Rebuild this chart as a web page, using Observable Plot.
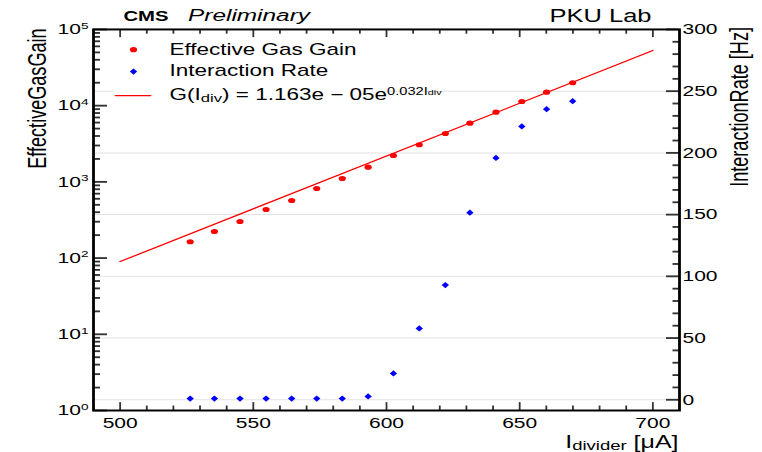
<!DOCTYPE html>
<html>
<head>
<meta charset="utf-8">
<script src="https://cdn.jsdelivr.net/npm/d3@7"></script>
<script src="https://cdn.jsdelivr.net/npm/@observablehq/plot@0.6"></script>
<style>
  html, body { margin: 0; padding: 0; background: #fff; overflow: hidden; }
  #wrap { position: relative; width: 762px; height: 637px; transform: scaleY(0.7096); transform-origin: 0 0; }
  #wrap svg { position: absolute; left: 0; top: 0; }
</style>
</head>
<body>
<div id="wrap"></div>
<script>
// ---------------- data ----------------
const currentUA = [526.3, 535.4, 545.0, 554.8, 564.4, 573.8, 583.4, 593.1, 602.6, 612.3, 622.1, 631.3, 641.1, 650.8, 660.1, 669.9];
const gasGain   = [164, 223, 302, 434, 570, 819, 1108, 1560, 2220, 3070, 4320, 5890, 8220, 11350, 15030, 19960];
const rateHz    = [1, 1, 1, 1, 1, 1, 1, 2.7, 21.3, 57.8, 92.9, 151.6, 195.9, 221.4, 235.4, 241.9];
const fitCurrentUA = [500, 700];
const fitGain      = [90, 53000];

// ---------------- ticks & labels ----------------
const xMajorTicks = [500, 550, 600, 650, 700];
const xMinorTicks = [510, 520, 530, 540, 560, 570, 580, 590, 610, 620, 630, 640, 660, 670, 680, 690];
const gainMajorTicks = [1, 10, 100, 1000, 10000, 100000];
const gainTickLabels = ["10^{0}", "10^{1}", "10^{2}", "10^{3}", "10^{4}", "10^{5}"];
const gainMinorTicks = [2,3,4,5,6,7,8,9, 20,30,40,50,60,70,80,90, 200,300,400,500,600,700,800,900,
  2000,3000,4000,5000,6000,7000,8000,9000, 20000,30000,40000,50000,60000,70000,80000,90000];
const rateMajorTicks = [0, 50, 100, 150, 200, 250, 300];
const rateMinorTicks = [10,20,30,40, 60,70,80,90, 110,120,130,140, 160,170,180,190, 210,220,230,240, 260,270,280,290];

const legendLabels = ["Effective Gas Gain", "Interaction Rate", "G(I_{div}) = 1.163e \u2212 05e^{0.032I_{div}}"];
const leftTitle  = "EffectiveGasGain";
const rightTitle = "InteractionRate [Hz]";
const xTitle     = "I_{divider} [\u03bcA]";
const cmsLabel = "CMS";
const prelimLabel = "Preliminary";
const labLabel = "PKU Lab";

// ---------------- tables ----------------
const gainTable = currentUA.map((I, i) => ({I, G: gasGain[i]}));
const rateTable = currentUA.map((I, i) => ({I, R: rateHz[i]}));
const fitTable  = fitCurrentUA.map((I, i) => ({I, G: fitGain[i]}));

// ---------------- layout ----------------
const W = 762, H = 637;
const M = {marginLeft: 93, marginRight: 83, marginTop: 41, marginBottom: 59};
const FW = W - M.marginLeft - M.marginRight;
const FH = H - M.marginTop - M.marginBottom;
const FONT = "'Liberation Sans', Arial, Helvetica, sans-serif";
const RED = "#ff0000", BLUE = "#0000ff", TICK = "#333333";

const diamond = {
  draw(ctx, size) {
    const r = Math.sqrt(size / Math.PI);
    const w = r * 1.05, h = r * 1.25;
    ctx.moveTo(0, -h); ctx.lineTo(w, 0); ctx.lineTo(0, h); ctx.lineTo(-w, 0); ctx.closePath();
  }
};
const hline = { draw(ctx, l) { ctx.moveTo(0, 0); ctx.lineTo(0, -l); } };

// inward tick marks drawn as short rules
const tickMarks = (vals, side, len, sw) => {
  const o = {stroke: TICK, strokeWidth: sw, strokeOpacity: 1};
  if (side === "bottom") return Plot.ruleX(vals, {...o, x: d => d, insetTop: FH - len});
  if (side === "top")    return Plot.ruleX(vals, {...o, x: d => d, insetBottom: FH - len});
  if (side === "left")   return Plot.ruleY(vals, {...o, y: d => d, insetRight: FW - len});
  return Plot.ruleY(vals, {...o, y: d => d, insetLeft: FW - len});
};

// bottom layer: rate (right axis), grid, blue markers
const plotB = Plot.plot({
  width: W, height: H, ...M,
  style: {fontFamily: FONT, background: "white", color: "black"},
  x: {domain: [490, 710], axis: null},
  y: {domain: [-8.7, 300]},
  marks: [
    Plot.gridY({ticks: rateMajorTicks, stroke: "#e2e2e2", strokeOpacity: 1, strokeWidth: 1.4}),
    Plot.axisY({ticks: rateMajorTicks, anchor: "right", tickSize: 0, tickPadding: 3, fontSize: 21, label: null}),
    tickMarks(rateMajorTicks, "right", 13, 2.6),
    tickMarks(rateMinorTicks, "right", 6.5, 2.6),
    Plot.dot(rateTable, {x: "I", y: "R", r: 3.5, symbol: diamond, fill: BLUE, stroke: "none"})
  ]
});

// top layer: gain (log, left axis), frame, fit, red markers, legend, titles
const plotA = Plot.plot({
  width: W, height: H, ...M,
  style: {fontFamily: FONT, background: "transparent", color: "black"},
  x: {domain: [490, 710]},
  y: {type: "log", domain: [1, 1e5]},
  marks: [
    // legend background
    Plot.frame({fill: "white", stroke: "none", insetLeft: 21, insetRight: 299, insetTop: 9, insetBottom: 433}),
    // x axis
    Plot.axisX({ticks: xMajorTicks, anchor: "bottom", tickSize: 0, tickPadding: 9.5, fontSize: 21, label: null, tickFormat: d => String(d)}),
    tickMarks(xMajorTicks, "bottom", 11.3, 1.8),
    tickMarks(xMinorTicks, "bottom", 6.5, 1.8),
    tickMarks(xMajorTicks, "top", 11.3, 1.8),
    tickMarks(xMinorTicks, "top", 6.5, 1.8),
    // left log axis
    Plot.axisY({ticks: gainMajorTicks, anchor: "left", tickSize: 0, tickPadding: 5, fontSize: 21, label: null,
      tickFormat: d => gainTickLabels[gainMajorTicks.indexOf(d)]}),
    tickMarks(gainMajorTicks, "left", 14, 2.6),
    tickMarks(gainMinorTicks, "left", 7, 2.6),
    Plot.frame({stroke: "black", strokeWidth: 2.8}),
    // fit and data
    Plot.line(fitTable, {x: "I", y: "G", stroke: RED, strokeWidth: 1.7}),
    Plot.dot(gainTable, {x: "I", y: "G", r: 3.6, fill: RED, stroke: "none"}),
    // legend
    Plot.dot([legendLabels[0]], {x: null, y: null, frameAnchor: "top-left", dx: 40, dy: 28.5, r: 3.6, fill: RED, stroke: "none"}),
    Plot.dot([legendLabels[1]], {x: null, y: null, frameAnchor: "top-left", dx: 40, dy: 59.3, r: 3.5, symbol: diamond, fill: BLUE, stroke: "none"}),
    Plot.vector([legendLabels[2]], {x: null, y: null, frameAnchor: "top-left", dx: 22, dy: 93.2, rotate: 90, length: 35, anchor: "start", shape: hline, stroke: RED, strokeWidth: 1.9}),
    Plot.text([legendLabels[0]], {text: d => d, frameAnchor: "top-left", dx: 76, dy: 28.3, textAnchor: "start", lineAnchor: "middle", fontSize: 22.5}),
    Plot.text([legendLabels[1]], {text: d => d, frameAnchor: "top-left", dx: 76, dy: 59.0, textAnchor: "start", lineAnchor: "middle", fontSize: 22.5}),
    Plot.text([legendLabels[2]], {text: d => d, frameAnchor: "top-left", dx: 76, dy: 92.6, textAnchor: "start", lineAnchor: "middle", fontSize: 22.5}),
    // headers
    Plot.text([cmsLabel], {text: d => d, frameAnchor: "top-left", dx: 30, dy: -11.8, textAnchor: "start", lineAnchor: "bottom", fontSize: 21, fontWeight: "bold"}),
    Plot.text([prelimLabel], {text: d => d, frameAnchor: "top-left", dx: 94.5, dy: -11.8, textAnchor: "start", lineAnchor: "bottom", fontSize: 24, fontStyle: "italic"}),
    Plot.text([labLabel], {text: d => d, frameAnchor: "top-right", dx: -28, dy: -10.4, textAnchor: "end", lineAnchor: "bottom", fontSize: 25.5}),
    // axis titles
    Plot.text([leftTitle], {text: d => d, frameAnchor: "top-left", dx: -48, dy: -1.5, rotate: -90, textAnchor: "end", lineAnchor: "bottom", fontSize: 25.5}),
    Plot.text([rightTitle], {text: d => d, frameAnchor: "top-right", dx: 68, dy: -3.4, rotate: -90, textAnchor: "end", lineAnchor: "bottom", fontSize: 25.5}),
    Plot.text([xTitle], {text: d => d, frameAnchor: "bottom-right", dx: -1, dy: 53, textAnchor: "end", lineAnchor: "bottom", fontSize: 25})
  ]
});

const wrap = document.getElementById("wrap");
wrap.appendChild(plotB);
wrap.appendChild(plotA);

// fix the header widths to those measured on the reference
const headerWidths = {[cmsLabel]: 45, [prelimLabel]: 122};
plotA.querySelectorAll("text").forEach(t => {
  const w = headerWidths[t.textContent];
  if (w) { t.setAttribute("textLength", w); t.setAttribute("lengthAdjust", "spacingAndGlyphs"); }
});

// ---------- convert ^{..} and _{..} markup into tspans ----------
function parseRich(s) {
  const out = [];
  (function walk(str, stack) {
    let i = 0, buf = "";
    while (i < str.length) {
      const c = str[i];
      if ((c === "^" || c === "_") && str[i + 1] === "{") {
        if (buf) { out.push({text: buf, stack}); buf = ""; }
        let depth = 0, j = i + 1;
        for (; j < str.length; j++) {
          if (str[j] === "{") depth++;
          else if (str[j] === "}") { depth--; if (depth === 0) break; }
        }
        walk(str.slice(i + 2, j), stack.concat(c === "^" ? "sup" : "sub"));
        i = j + 1;
      } else { buf += c; i++; }
    }
    if (buf) out.push({text: buf, stack});
  })(s, []);
  return out;
}
function richify(svg) {
  svg.querySelectorAll("text").forEach(t => {
    const s = t.textContent;
    if (!/[\^_]\{/.test(s)) return;
    const base = parseFloat(getComputedStyle(t).fontSize) || 20;
    const segs = parseRich(s);
    t.textContent = "";
    t.style.whiteSpace = "pre";
    let cur = 0;
    segs.forEach(sg => {
      let size = base, shift = 0;
      sg.stack.forEach(k => {
        if (k === "sup") { shift -= 0.36 * size; size *= 0.65; }
        else { shift += 0.09 * size; size *= 0.74; }
      });
      const ts = document.createElementNS("http://www.w3.org/2000/svg", "tspan");
      ts.setAttribute("font-size", size.toFixed(2) + "px");
      if (shift !== cur) ts.setAttribute("dy", (shift - cur).toFixed(2));
      cur = shift;
      ts.textContent = sg.text;
      t.appendChild(ts);
    });
  });
}
richify(plotA);
richify(plotB);
</script>
</body>
</html>
